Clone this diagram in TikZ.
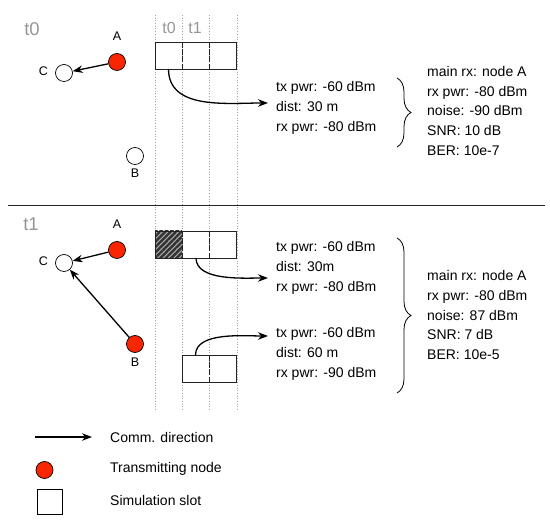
\documentclass[tikz,border=0pt]{standalone}
\usepackage{fontspec}
\setmainfont{Liberation Sans}
\usepackage{tikz}
\usetikzlibrary{arrows.meta, positioning, calc, patterns.meta, decorations.pathreplacing}
\definecolor{txred}{RGB}{250,38,0}
\definecolor{lblgray}{RGB}{150,150,150}
\definecolor{guidegray}{RGB}{165,165,165}
\definecolor{linedark}{RGB}{35,35,35}
\tikzset{
  radio/.style={circle, draw=black, fill=white, minimum size=17pt,
    inner sep=0pt, line width=0.7pt},
  txradio/.style={radio, fill=txred},
  nodelbl/.style={font=\fontsize{12.5}{14}\selectfont, inner sep=0pt},
  timelbl/.style={font=\fontsize{18.5}{20}\selectfont, text=lblgray, inner sep=0pt},
  slotlbl/.style={font=\fontsize{16}{18}\selectfont, text=lblgray, inner sep=0pt},
  slot/.style={rectangle, minimum width=27pt, minimum height=27pt,
    inner sep=0pt, outer sep=0pt},
  info/.style={align=left, font=\fontsize{14}{19.7}\selectfont,
    inner xsep=8pt, inner ysep=0pt},
  comm/.style={-{Stealth[length=10pt, width=7.5pt]}, line width=1.3pt},
  guide/.style={dotted, color=guidegray, line width=0.7pt},
  slotline/.style={line width=0.8pt, color=linedark},
  divider/.style={slotline, dash pattern=on 6pt off 1.2pt},
  brc/.style={decorate, decoration={brace, amplitude=14pt}, line width=0.8pt}
}

\begin{document}
\begin{tikzpicture}[x=1pt, y=-1pt]
  \useasboundingbox (0,0) rectangle (550,526);

  % ── Slot guides ────────────────────────────────────────────────────────────
  \foreach \gx in {155,182,209,237}
    \draw[guide] (\gx,15) -- (\gx,410);
  \node[slotlbl] (hdrt0) at (169,28) {t0};
  \node[slotlbl] (hdrt1) at (195,28) {t1};

  % ── Time t0 (top) ──────────────────────────────────────────────────────────
  \node[timelbl] (tzero) at (32,29) {t0};
  \node[radio] (c0) at (64,73) {};
  \node[txradio] (a0) at (117,62) {};
  \node[radio] (b0) at (135,156) {};
  \node[nodelbl, above=12pt of a0] {A};
  \node[nodelbl, left=7pt of c0, yshift=1.5pt] {C};
  \node[nodelbl, below=4pt of b0] {B};
  \draw[comm] (a0) -- (c0);

  % Slots
  \node[slot] (s0a) at (168.5,55.5) {};
  \node[slot, right=0pt of s0a] (s0b) {};
  \node[slot, right=0pt of s0b] (s0c) {};
  \draw[slotline] (s0a.north west) rectangle (s0c.south east);
  \draw[divider] (s0a.north east) -- (s0a.south east);
  \draw[divider] (s0b.north east) -- (s0b.south east);

  % Link budget
  \node[info, anchor=west] (link0) at (268,108) {tx pwr: -60 dBm\\dist: 30 m\\rx pwr: -80 dBm};
  \draw[comm] (s0a.south) to[out=-90, in=180] ($(link0.west)+(0,-5)$);
  \draw[brc] (397,78) -- (397,147);
  \node[info, anchor=west] (rx0) at (419,111) {main rx: node A\\rx pwr: -80 dBm\\noise: -90 dBm\\SNR: 10 dB\\BER: 10e-7};

  % ── Separator ──────────────────────────────────────────────────────────────
  \draw[line width=0.9pt, color=linedark] (8,205) -- (545,205);

  % ── Time t1 (bottom) ───────────────────────────────────────────────────────
  \node[timelbl] (tone) at (31,224) {t1};
  \node[radio] (c1) at (64,263) {};
  \node[txradio] (a1) at (117,250) {};
  \node[txradio] (b1) at (135,344) {};
  \node[nodelbl, above=12pt of a1] {A};
  \node[nodelbl, left=7pt of c1, yshift=2pt] {C};
  \node[nodelbl, below=5pt of b1] {B};
  \draw[comm] (a1) -- (c1);
  \draw[comm] (b1) -- (c1);

  % Slots, first one taken
  \node[slot] (s1a) at (168.5,244.5) {};
  \node[slot, right=0pt of s1a] (s1b) {};
  \node[slot, right=0pt of s1b] (s1c) {};
  \fill[gray!60] (s1a.north west) rectangle (s1a.south east);
  \fill[pattern={Lines[angle=45, distance=3.8pt, line width=2.6pt]}, pattern color=black!80]
    (s1a.north west) rectangle (s1a.south east);
  \draw[slotline] (s1a.north west) rectangle (s1c.south east);
  \draw[divider] (s1a.north east) -- (s1a.south east);
  \draw[divider] (s1b.north east) -- (s1b.south east);

  \node[slot] (s2b) at (195.5,368.5) {};
  \node[slot, right=0pt of s2b] (s2c) {};
  \draw[slotline] (s2b.north west) rectangle (s2c.south east);
  \draw[divider] (s2b.north east) -- (s2b.south east);

  % Link budgets
  \node[info, anchor=west] (link1) at (268,268) {tx pwr: -60 dBm\\dist: 30m\\rx pwr: -80 dBm};
  \node[info, anchor=west] (link2) at (268,354) {tx pwr: -60 dBm\\dist: 60 m\\rx pwr: -90 dBm};
  \draw[comm] (s1b.south west) ++(14,0) coordinate (out1)
    (out1) to[out=-90, in=180, looseness=0.8] ($(link1.west)+(0,10)$);
  \draw[comm] (s2b.north) to[out=90, in=180, looseness=0.8] ($(link2.west)+(0,-18)$);
  \draw[brc] (397,238) -- (397,393);
  \node[info, anchor=west] (rx1) at (419,315) {main rx: node A\\rx pwr: -80 dBm\\noise: 87 dBm\\SNR: 7 dB\\BER: 10e-5};

  % ── Legend ─────────────────────────────────────────────────────────────────
  \coordinate (legfrom) at (35,437);
  \coordinate (legto) at (92,437);
  \draw[comm] (legfrom) -- (legto);
  \node[info, anchor=west] (legcomm) at (102,437) {Comm. direction};
  \node[txradio] (legtx) at (44.5,470) {};
  \node[info, anchor=west] (legtxt) at (102,469) {Transmitting node};
  \node[slot, minimum width=25pt, minimum height=25pt, draw=black, line width=0.8pt] (legslot) at (49.5,501.5) {};
  \node[info, anchor=west] (legslott) at (102,500) {Simulation slot};
\end{tikzpicture}
\end{document}
